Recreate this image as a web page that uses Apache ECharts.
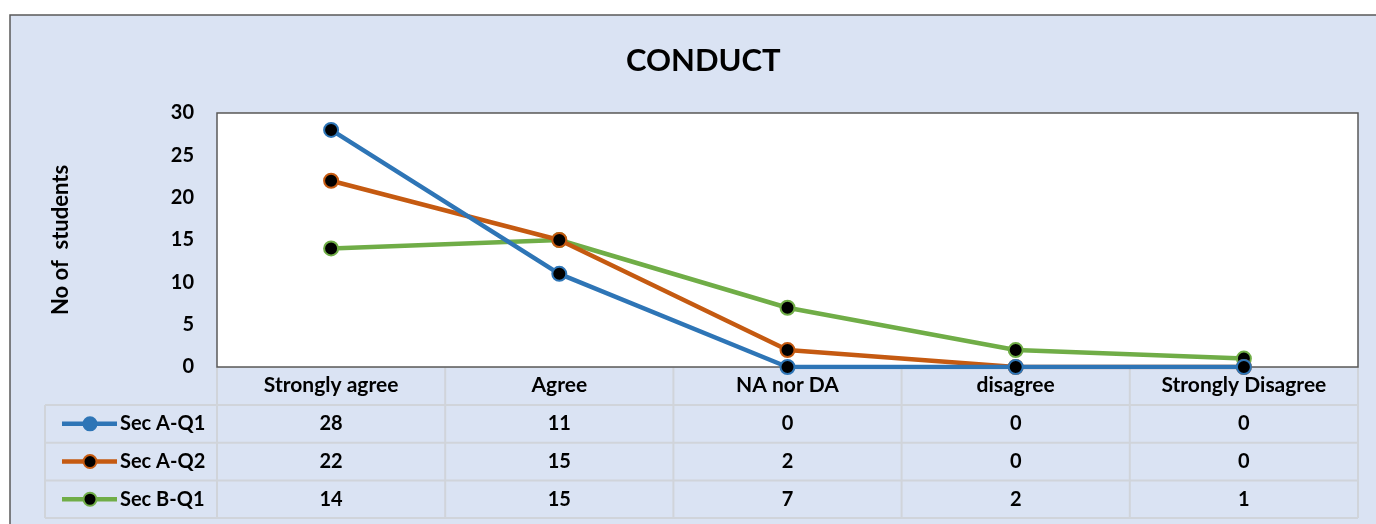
<!DOCTYPE html>
<html><head><meta charset="utf-8">
<script src="https://cdn.jsdelivr.net/npm/echarts@6/dist/echarts.min.js"></script>
<style>html,body{margin:0;padding:0;background:#fff}#c{width:1376px;height:524px}</style>
</head><body><div id="c"></div>
<script>
const categories = ['Strongly agree', 'Agree', 'NA nor DA', 'disagree', 'Strongly Disagree'];
const seriesNames = ['Sec A-Q1', 'Sec A-Q2', 'Sec B-Q1'];
const secA_Q1 = [28, 11, 0, 0, 0];
const secA_Q2 = [22, 15, 2, 0, 0];
const secB_Q1 = [14, 15, 7, 2, 1];
const yTicks = [0, 5, 10, 15, 20, 25, 30];
const colors = ['#2e75b6', '#c55a11', '#70ad47'];
const allData = [secA_Q1, secA_Q2, secB_Q1];

const FONT = 'Lato, "Open Sans", sans-serif';
const chart = echarts.init(document.getElementById('c'), null, {renderer: 'canvas'});
const G = {left: 217, right: 18, top: 113, bottom: 157};

chart.setOption({
  animation: false,
  backgroundColor: '#ffffff',
  title: {text: 'CONDUCT', left: 621, top: 40,
    textStyle: {fontFamily: FONT, fontWeight: 'bold', fontSize: 31, color: '#000'}},
  grid: {left: G.left, right: G.right, top: G.top, bottom: G.bottom, show: true,
    backgroundColor: '#ffffff', borderColor: '#595959', borderWidth: 1.5, z: 2},
  xAxis: {type: 'category', data: categories, boundaryGap: true,
    axisLine: {show: false}, axisTick: {show: false},
    axisLabel: {margin: 8, fontFamily: FONT, fontWeight: 'bold', fontSize: 21, color: '#000'}},
  yAxis: {type: 'value', min: yTicks[0], max: yTicks[yTicks.length - 1], interval: 5,
    name: 'No of  students', nameLocation: 'middle', nameGap: 145, nameRotate: 90,
    nameTextStyle: {fontFamily: FONT, fontWeight: 'bold', fontSize: 22, color: '#000'},
    axisLine: {show: false}, axisTick: {show: false},
    axisLabel: {margin: 23, fontFamily: FONT, fontWeight: 'bold', fontSize: 20, color: '#000'},
    splitLine: {lineStyle: {color: '#d9d9d9', width: 1.5}}},
  series: allData.map((d, i) => ({
    name: seriesNames[i], type: 'line', data: d, z: 3 + (2 - i),
    symbol: 'circle', symbolSize: 14,
    lineStyle: {color: colors[i], width: 4.5},
    itemStyle: {color: '#000', borderColor: colors[i], borderWidth: 2}
  }))
});

function buildTable() {
  const els = [];
  els.push({type: 'rect', shape: {x: 10, y: 15, width: 1380, height: 530},
    style: {fill: '#dae3f3', stroke: '#595959', lineWidth: 1.5}, z: -10, silent: true});
  const xs = categories.map((c, i) => chart.convertToPixel({xAxisIndex: 0}, i));
  const plotL = G.left, plotR = 1376 - G.right;
  const half = (plotR - plotL) / categories.length / 2;
  const yAxis0 = chart.convertToPixel({yAxisIndex: 0}, 0);
  const rowH = 37.7;
  const headerBottom = yAxis0 + 38;
  const rowTops = [headerBottom, headerBottom + rowH, headerBottom + 2 * rowH];
  const tableBottom = headerBottom + 3 * rowH;
  const lc = '#d0d4da';
  [headerBottom, headerBottom + rowH, headerBottom + 2 * rowH, tableBottom].forEach(y => {
    els.push({type: 'line', shape: {x1: 45, y1: y, x2: plotR, y2: y},
      style: {stroke: lc, lineWidth: 2}, silent: true, z: 1});
  });
  els.push({type: 'line', shape: {x1: 45, y1: headerBottom, x2: 45, y2: tableBottom},
    style: {stroke: lc, lineWidth: 2}, silent: true, z: 1});
  xs.forEach(x => {
    els.push({type: 'line', shape: {x1: x - half, y1: yAxis0, x2: x - half, y2: tableBottom},
      style: {stroke: lc, lineWidth: 2}, silent: true, z: 1});
  });
  els.push({type: 'line', shape: {x1: plotR, y1: yAxis0, x2: plotR, y2: tableBottom},
    style: {stroke: lc, lineWidth: 2}, silent: true, z: 1});
  allData.forEach((d, r) => {
    const cy = rowTops[r] + rowH / 2;
    els.push({type: 'line', shape: {x1: 62, y1: cy, x2: 117, y2: cy},
      style: {stroke: colors[r], lineWidth: 4.5}, silent: true, z: 5});
    els.push({type: 'circle', shape: {cx: 90, cy: cy, r: 6.5},
      style: {fill: r === 0 ? colors[0] : '#000', stroke: colors[r], lineWidth: 2}, silent: true, z: 6});
    els.push({type: 'text', x: 120, y: cy,
      style: {text: seriesNames[r], fontFamily: FONT, fontWeight: 'bold', fontSize: 20, fill: '#000',
        align: 'left', verticalAlign: 'middle'}, silent: true, z: 5});
    d.forEach((v, i) => {
      els.push({type: 'text', x: xs[i], y: cy,
        style: {text: String(v), fontFamily: FONT, fontWeight: 'bold', fontSize: 20, fill: '#000',
          align: 'center', verticalAlign: 'middle'}, silent: true, z: 5});
    });
  });
  chart.setOption({graphic: {elements: els}});
}
buildTable();
</script></body></html>
